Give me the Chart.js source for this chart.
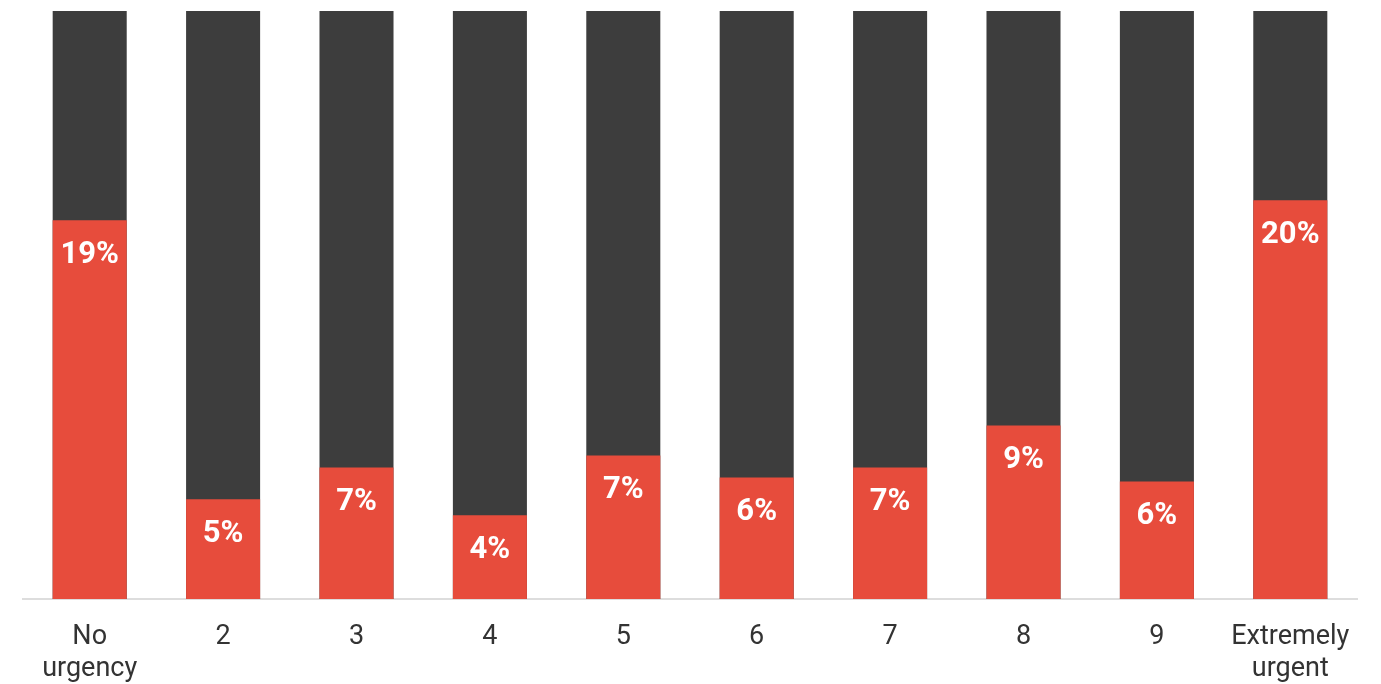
<!DOCTYPE html>
<html>
<head>
<meta charset="utf-8">
<script src="https://cdn.jsdelivr.net/npm/chart.js@4"></script>
<style>
  html, body { margin: 0; padding: 0; background: #fff; }
  #wrap { width: 1381px; height: 684px; position: relative; }
</style>
</head>
<body>
<div id="wrap"><canvas id="c"></canvas></div>
<script>
const categories = [["No", "urgency"], "2", "3", "4", "5", "6", "7", "8", "9", ["Extremely", "urgent"]];
const shareValues = [19.0, 5.0, 6.6, 4.2, 7.2, 6.1, 6.6, 8.7, 5.9, 20.0];
const backgroundValues = [29.5, 29.5, 29.5, 29.5, 29.5, 29.5, 29.5, 29.5, 29.5, 29.5];
const axisMax = 29.5;

const labelPlugin = {
  id: 'barLabels',
  afterDatasetsDraw(chart) {
    const ctx = chart.ctx;
    const meta = chart.getDatasetMeta(0);
    ctx.save();
    ctx.fillStyle = '#ffffff';
    ctx.font = 'bold 31px Roboto';
    ctx.textAlign = 'center';
    ctx.textBaseline = 'middle';
    meta.data.forEach((bar, i) => {
      ctx.fillText(Math.round(shareValues[i]) + '%', bar.x, bar.y + 35);
    });
    ctx.restore();
  }
};

new Chart(document.getElementById('c'), {
  type: 'bar',
  data: {
    labels: categories,
    datasets: [
      { data: shareValues, backgroundColor: '#E74C3C', order: 1, barPercentage: 0.555, categoryPercentage: 1 },
      { data: backgroundValues, backgroundColor: '#3D3D3D', order: 2, barPercentage: 0.555, categoryPercentage: 1 }
    ]
  },
  options: {
    responsive: true,
    maintainAspectRatio: false,
    animation: false,
    layout: { padding: { left: 23, right: 24, top: 11, bottom: 0 } },
    plugins: { legend: { display: false }, tooltip: { enabled: false } },
    scales: {
      x: {
        stacked: true,
        grid: { display: false, drawTicks: false },
        border: { display: true, color: '#dddddd', width: 2 },
        ticks: { color: '#333333', font: { family: 'Roboto', size: 27, lineHeight: 1.2 }, padding: 22, maxRotation: 0, autoSkip: false },
        afterFit: (scale) => { scale.height = 85; }
      },
      y: {
        stacked: false,
        display: false,
        min: 0,
        max: axisMax
      }
    }
  },
  plugins: [labelPlugin]
});
</script>
</body>
</html>
